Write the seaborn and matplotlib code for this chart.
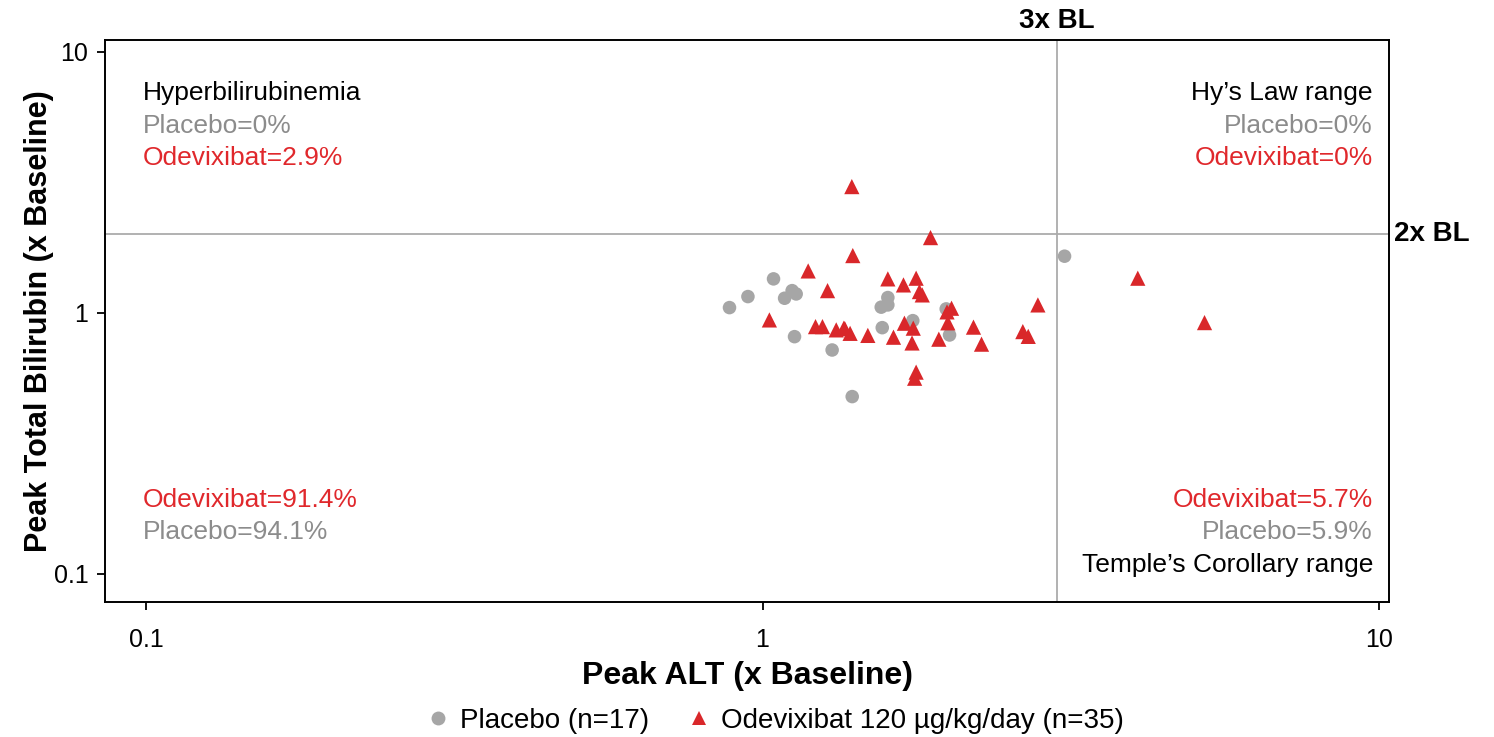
import numpy as np
import pandas as pd
import seaborn as sns
import matplotlib
matplotlib.use("Agg")
import matplotlib.pyplot as plt
from matplotlib.lines import Line2D

# ---- data ----
placebo_alt = [0.884, 0.947, 1.042, 1.086, 1.117, 1.134, 1.127, 1.297, 1.398,
               1.597, 1.558, 1.597, 1.564, 1.753, 1.986, 2.011, 3.090]
placebo_bili = [1.048, 1.155, 1.350, 1.138, 1.217, 1.182, 0.811, 0.721, 0.478,
                1.145, 1.052, 1.073, 0.878, 0.934, 1.036, 0.823, 1.649]

odevi_alt = [1.396, 1.873, 1.401, 1.186, 1.275, 1.597, 1.775, 1.693, 1.797, 1.816,
             1.026, 1.219, 1.251, 1.317, 1.355, 1.387, 1.482, 1.631, 1.699, 1.756,
             1.748, 1.932, 1.998, 1.992, 2.026, 2.199, 2.266, 1.775, 1.765, 2.797,
             2.644, 2.698, 4.062, 5.212, 1.360]
odevi_bili = [3.047, 1.943, 1.658, 1.448, 1.217, 1.350, 1.358, 1.280, 1.207, 1.172,
              0.940, 0.886, 0.886, 0.861, 0.874, 0.835, 0.820, 0.807, 0.913, 0.874,
              0.767, 0.793, 0.916, 1.009, 1.042, 0.882, 0.759, 0.593, 0.562, 1.073,
              0.848, 0.813, 1.358, 0.918, 0.870]

groups = ["Placebo", "Odevixibat"]
legend_labels = ["Placebo (n=17)", "Odevixibat 120 \u00b5g/kg/day (n=35)"]

alt_threshold = 3.0
bili_threshold = 2.0

x_ticks = [0.1, 1, 10]
x_ticklabels = ["0.1", "1", "10"]
y_ticks = [0.1, 1, 10]
y_ticklabels = ["0.1", "1", "10"]

quad_tl = ["Hyperbilirubinemia", "Placebo=0%", "Odevixibat=2.9%"]
quad_tr = ["Hy\u2019s Law range", "Placebo=0%", "Odevixibat=0%"]
quad_bl = ["Odevixibat=91.4%", "Placebo=94.1%"]
quad_br = ["Odevixibat=5.7%", "Placebo=5.9%", "Temple\u2019s Corollary range"]

# ---- styling ----
GREY = "#A6A6A6"
RED = "#D9272A"
GREY_TXT = "#8C8C8C"
RED_TXT = "#E0282C"
LINE = "#ABABAB"

sns.set_theme(style="ticks")
plt.rcParams["font.family"] = ["Liberation Sans", "DejaVu Sans"]
plt.rcParams["text.color"] = "black"
plt.rcParams["axes.labelcolor"] = "black"

df = pd.DataFrame({
    "alt": placebo_alt + odevi_alt,
    "bili": placebo_bili + odevi_bili,
    "group": [groups[0]] * len(placebo_alt) + [groups[1]] * len(odevi_alt),
})

fig = plt.figure(figsize=(14.94, 7.37), dpi=100)
ax = fig.add_axes([0.0703, 0.1832, 0.8594, 0.7625])

ax.axvline(alt_threshold, color=LINE, lw=1.3, zorder=1)
ax.axhline(bili_threshold, color=LINE, lw=1.3, zorder=1)

sns.scatterplot(data=df[df.group == groups[0]], x="alt", y="bili", ax=ax,
                color=GREY, marker="o", s=95, edgecolor="none", legend=False, zorder=3)
sns.scatterplot(data=df[df.group == groups[1]], x="alt", y="bili", ax=ax,
                color=RED, marker="^", s=120, edgecolor="none", legend=False, zorder=4)

ax.set_xscale("log")
ax.set_yscale("log")
ax.set_xlim(0.0858, 10.38)
ax.set_ylim(0.0781, 11.1)
ax.set_xticks(x_ticks)
ax.set_xticklabels(x_ticklabels)
ax.set_yticks(y_ticks)
ax.set_yticklabels(y_ticklabels)
ax.minorticks_off()
ax.tick_params(axis="both", which="major", labelsize=18, length=6, width=1.3,
               color="black", labelcolor="black", direction="out")
ax.tick_params(axis="x", pad=13)
ax.tick_params(axis="y", pad=6)
for sp in ax.spines.values():
    sp.set_color("black")
    sp.set_linewidth(1.4)

ax.set_xlabel("Peak ALT (x Baseline)", fontsize=23, fontweight="bold", labelpad=6,
              color="black")
ax.set_ylabel("Peak Total Bilirubin (x Baseline)", fontsize=22, fontweight="bold",
              labelpad=0, color="black")

fs = 19
ys_top = [0.9055, 0.8478, 0.7908]
ys_bot = [0.1823, 0.1253, 0.0666]
cols_tl = ["black", GREY_TXT, RED_TXT]
for t, yv, c in zip(quad_tl, ys_top, cols_tl):
    ax.text(0.0296, yv, t, transform=ax.transAxes, ha="left", va="center", fontsize=fs, color=c)
for t, yv, c in zip(quad_tr, ys_top, cols_tl):
    ax.text(0.9875, yv, t, transform=ax.transAxes, ha="right", va="center", fontsize=fs, color=c)
for t, yv, c in zip(quad_bl, ys_bot[:2], [RED_TXT, GREY_TXT]):
    ax.text(0.0296, yv, t, transform=ax.transAxes, ha="left", va="center", fontsize=fs, color=c)
for t, yv, c in zip(quad_br, ys_bot, [RED_TXT, GREY_TXT, "black"]):
    ax.text(0.9875, yv, t, transform=ax.transAxes, ha="right", va="center", fontsize=fs, color=c)

# threshold labels
ax.text(alt_threshold, 1.01, "3x BL", transform=ax.get_xaxis_transform(), ha="center",
        va="bottom", fontsize=20, fontweight="bold", clip_on=False, color="black")
ax.text(1.004, bili_threshold, "2x BL", transform=ax.get_yaxis_transform(), ha="left",
        va="center", fontsize=20, fontweight="bold", clip_on=False, color="black")

handles = [
    Line2D([], [], linestyle="none", marker="o", color=GREY, markersize=10, markeredgewidth=0),
    Line2D([], [], linestyle="none", marker="^", color=RED, markersize=10, markeredgewidth=0),
]
fig.legend(handles, legend_labels, loc="center", bbox_to_anchor=(0.518, 0.022), ncol=2,
           frameon=False, fontsize=20, handletextpad=0.3, columnspacing=1.3,
           handlelength=1.0, labelcolor="black")

fig.savefig("out.png", dpi=100)
